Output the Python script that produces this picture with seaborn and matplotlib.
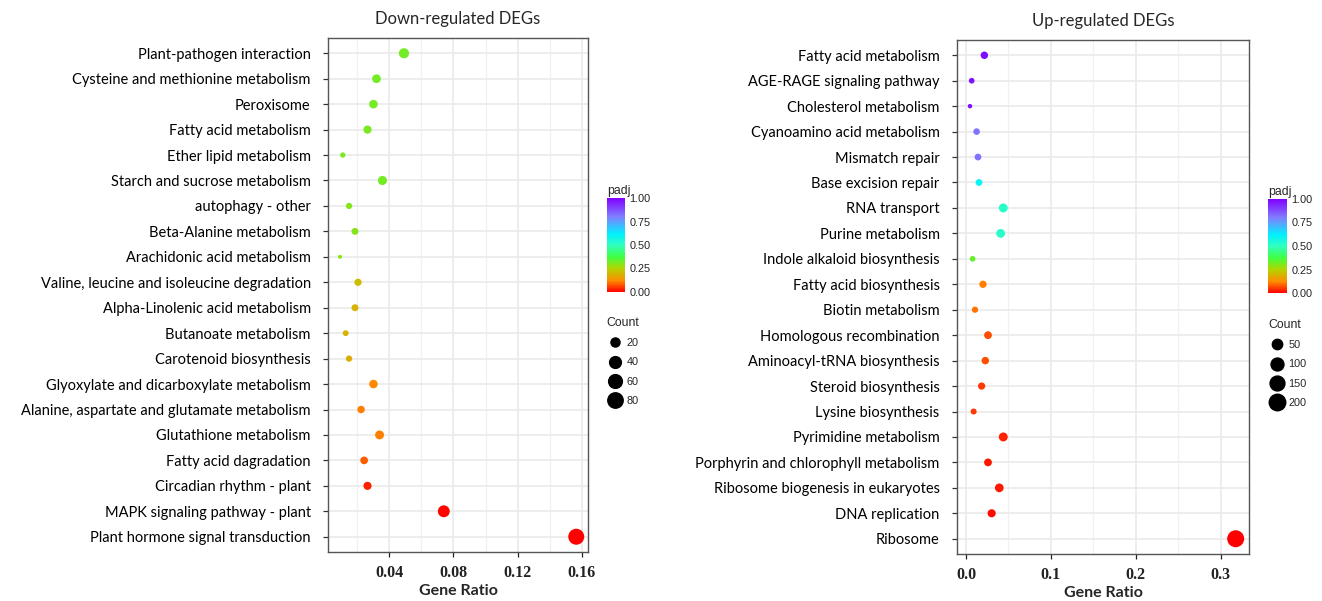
import matplotlib.pyplot as plt
import matplotlib as mpl
import pandas as pd
import seaborn as sns
from matplotlib.colors import LinearSegmentedColormap
from matplotlib.lines import Line2D
from matplotlib.ticker import FixedLocator

# Down-regulated DEGs (top to bottom)
down_terms = [
    "Plant-pathogen interaction", "Cysteine and methionine metabolism", "Peroxisome",
    "Fatty acid metabolism", "Ether lipid metabolism", "Starch and sucrose metabolism",
    "autophagy - other", "Beta-Alanine metabolism", "Arachidonic acid metabolism",
    "Valine, leucine and isoleucine degradation", "Alpha-Linolenic acid metabolism",
    "Butanoate metabolism", "Carotenoid biosynthesis",
    "Glyoxylate and dicarboxylate metabolism", "Alanine, aspartate and glutamate metabolism",
    "Glutathione metabolism", "Fatty acid dagradation", "Circadian rhythm - plant",
    "MAPK signaling pathway - plant", "Plant hormone signal transduction",
]
down_ratio = [0.0492, 0.0321, 0.0302, 0.0265, 0.0111, 0.0358, 0.0150, 0.0187, 0.0094, 0.0206,
              0.0187, 0.0129, 0.0150, 0.0302, 0.0225, 0.0340, 0.0244, 0.0265, 0.0740, 0.1565]
down_count = [27, 18, 17, 15, 6, 20, 8, 10, 5, 11, 10, 7, 8, 17, 12, 19, 13, 15, 41, 88]
down_padj = [0.32, 0.32, 0.32, 0.31, 0.31, 0.32, 0.30, 0.30, 0.29, 0.21,
             0.19, 0.19, 0.18, 0.12, 0.11, 0.11, 0.08, 0.03, 0.005, 0.0]

# Up-regulated DEGs (top to bottom)
up_terms = [
    "Fatty acid metabolism", "AGE-RAGE signaling pathway", "Cholesterol metabolism",
    "Cyanoamino acid metabolism", "Mismatch repair", "Base excision repair", "RNA transport",
    "Purine metabolism", "Indole alkaloid biosynthesis", "Fatty acid biosynthesis",
    "Biotin metabolism", "Homologous recombination", "Aminoacyl-tRNA biosynthesis",
    "Steroid biosynthesis", "Lysine biosynthesis", "Pyrimidine metabolism",
    "Porphyrin and chlorophyll metabolism", "Ribosome biogenesis in eukaryotes",
    "DNA replication", "Ribosome",
]
up_ratio = [0.0216, 0.0067, 0.0047, 0.0125, 0.0141, 0.0153, 0.0439, 0.0408, 0.0078, 0.0200,
            0.0106, 0.0259, 0.0227, 0.0184, 0.0090, 0.0439, 0.0259, 0.0392, 0.0302, 0.3176]
up_count = [15, 5, 3, 9, 10, 10, 30, 28, 5, 14, 7, 18, 15, 13, 6, 30, 18, 27, 21, 216]
up_padj = [0.98, 0.97, 0.97, 0.82, 0.82, 0.60, 0.52, 0.52, 0.33, 0.11,
           0.10, 0.07, 0.07, 0.05, 0.05, 0.03, 0.02, 0.02, 0.01, 0.0]

down_legend = [20, 40, 60, 80]
up_legend = [50, 100, 150, 200]

cmap = LinearSegmentedColormap.from_list("padj", [
    (0.0, "#FF0000"), (0.12, "#FF8C00"), (0.25, "#B4D400"), (0.37, "#40FF40"),
    (0.5, "#30FFC0"), (0.62, "#00F0FF"), (0.8, "#8080FF"), (1.0, "#8000FF")])

sns.set_theme(style="white")
W, H = 1322, 601
fig = plt.figure(figsize=(W / 100, H / 100), dpi=100)


def diam_px(c, cmin, cmax, dmin, dmax):
    # ggplot-like area scale: diameter grows with sqrt of rescaled value
    return dmin + (dmax - dmin) * ((c - cmin) / (cmax - cmin)) ** 0.5


def panel(box, terms, ratio, count, padj, title, xlim, major, minor, xlabels,
          dsize, cbar_box, legend_levels, legend_anchor):
    l, t, r, b = box
    ax = fig.add_axes([l / W, 1 - b / H, (r - l) / W, (b - t) / H])
    df = pd.DataFrame({"term": terms, "ratio": ratio, "count": count, "padj": padj})
    cmin, cmax = min(count), max(count)
    sizes = {c: (diam_px(c, cmin, cmax, *dsize) * 0.72) ** 2 for c in set(count)}
    sns.scatterplot(data=df, x="ratio", y="term", hue="padj", hue_norm=(0, 1), palette=cmap,
                    size="count", sizes=sizes, linewidth=0, legend=False, ax=ax, zorder=3)
    ax.set_xlim(*xlim)
    ax.set_ylim(len(terms) - 0.4, -0.6)
    ax.xaxis.set_major_locator(FixedLocator(major))
    ax.xaxis.set_minor_locator(FixedLocator(minor))
    ax.set_xticklabels(xlabels, fontfamily="Liberation Serif", fontweight="bold", fontsize=11.5)
    ax.grid(which="major", color="#EAEAEA", lw=1.2, zorder=0)
    ax.grid(which="minor", axis="x", color="#F0F0F0", lw=0.9, zorder=0)
    ax.set_axisbelow(True)
    for s in ax.spines.values():
        s.set_color("#555555")
        s.set_linewidth(1.0)
    ax.tick_params(axis="both", which="major", length=3.5, width=0.9, color="#333333",
                   bottom=True, left=True)
    ax.tick_params(axis="x", pad=6, colors="#222222")
    ax.tick_params(axis="y", pad=9, labelsize=10.5, labelcolor="#000000")
    ax.tick_params(axis="x", which="minor", length=0)
    for lab in ax.get_yticklabels():
        lab.set_fontfamily("Lato")
    ax.set_ylabel("")
    ax.set_xlabel("Gene Ratio", fontfamily="Lato", fontweight="bold", fontsize=11.5, labelpad=2)
    ax.set_title(title, fontfamily="Lato", fontsize=12, pad=10)

    # colour bar
    cl, ct, cr, cb = cbar_box
    cax = fig.add_axes([cl / W, 1 - cb / H, (cr - cl) / W, (cb - ct) / H])
    sm = mpl.cm.ScalarMappable(norm=mpl.colors.Normalize(0, 1), cmap=cmap)
    cbar = fig.colorbar(sm, cax=cax, ticks=[0, 0.25, 0.5, 0.75, 1.0])
    cbar.outline.set_visible(False)
    cbar.ax.set_yticklabels(["0.00", "0.25", "0.50", "0.75", "1.00"])
    cax.tick_params(length=3, width=0.8, colors="white", direction="in", pad=3)
    for lab in cax.get_yticklabels():
        lab.set_color("#222222")
        lab.set_fontfamily("Liberation Sans")
        lab.set_fontsize(7.8)
    cax.set_title("padj", loc="left", fontfamily="Liberation Sans", fontsize=8.8, pad=3)

    # size legend
    handles = [Line2D([], [], marker="o", linestyle="", color="black",
                      markersize=diam_px(v, cmin, cmax, *dsize) * 0.72) for v in legend_levels]
    leg = fig.legend(handles, [str(v) for v in legend_levels], title="Count", frameon=False,
                     loc="upper left", bbox_to_anchor=(legend_anchor[0] / W, 1 - legend_anchor[1] / H),
                     prop={"family": "Liberation Sans", "size": 7.8}, labelspacing=0.85,
                     handletextpad=0.3, borderpad=0, borderaxespad=0, handlelength=1.6)
    leg.get_title().set_fontfamily("Liberation Sans")
    leg.get_title().set_fontsize(8.8)
    leg._legend_box.align = "left"
    return ax


panel((328, 38, 588, 552), down_terms, down_ratio, down_count, down_padj, "Down-regulated DEGs",
      (0.0019, 0.1638), [0.04, 0.08, 0.12, 0.16], [0.02, 0.06, 0.10, 0.14],
      ["0.04", "0.08", "0.12", "0.16"], (4.0, 16.0), (607, 198, 625, 292), down_legend, (606, 317))

panel((957, 40, 1249, 554), up_terms, up_ratio, up_count, up_padj, "Up-regulated DEGs",
      (-0.0106, 0.3333), [0.0, 0.1, 0.2, 0.3], [0.05, 0.15, 0.25],
      ["0.0", "0.1", "0.2", "0.3"], (4.5, 17.0), (1268, 199, 1287, 293), up_legend, (1268, 319))

fig.savefig("out.png", dpi=100)
